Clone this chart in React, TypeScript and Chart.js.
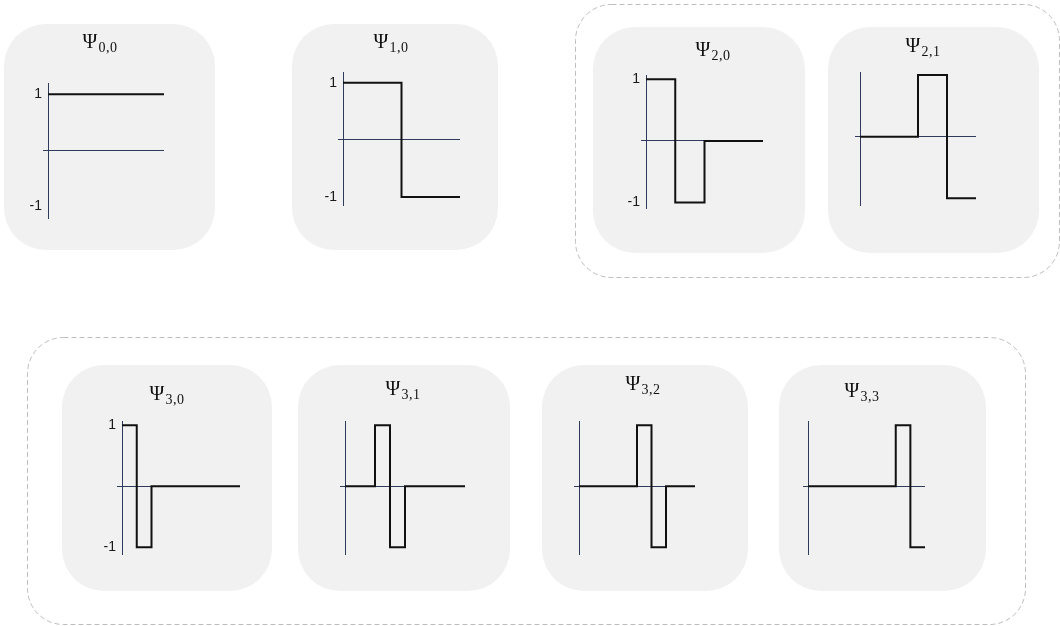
import React, { useEffect, useRef } from "react";
import { Chart, registerables } from "chart.js";

Chart.register(...registerables);

// ---------- data ----------
const Y_TICKS = [-1, 0, 1];

const PSI00_EDGES = [0, 1];
const PSI00_VALUES = [1];
const PSI10_EDGES = [0, 0.5, 1];
const PSI10_VALUES = [1, -1];
const PSI20_EDGES = [0, 0.25, 0.5, 1];
const PSI20_VALUES = [1, -1, 0];
const PSI21_EDGES = [0, 0.5, 0.75, 1];
const PSI21_VALUES = [0, 1, -1];
const PSI30_EDGES = [0, 0.125, 0.25, 1];
const PSI30_VALUES = [1, -1, 0];
const PSI31_EDGES = [0, 0.25, 0.375, 0.5, 1];
const PSI31_VALUES = [0, 1, -1, 0];
const PSI32_EDGES = [0, 0.5, 0.625, 0.75, 1];
const PSI32_VALUES = [0, 1, -1, 0];
const PSI33_EDGES = [0, 0.75, 0.875, 1];
const PSI33_VALUES = [0, 1, -1];

// ---------- styling / layout ----------
const AXIS = "#2f3b5c";
const LINE = "#111111";
const PANEL_BG = "#f1f1f1";
const Y_AXIS_W = 24;

type Panel = {
  j: string;
  k: string;
  edges: number[];
  values: number[];
  labels: boolean;
  box: [number, number, number, number];
  axisX: number;
  endX: number;
  axisTop: number;
  axisBottom: number;
  yMin: number;
  yMax: number;
  title: [number, number];
};

const PANELS: Panel[] = [
  { j: "0", k: "0", edges: PSI00_EDGES, values: PSI00_VALUES, labels: true, box: [4, 24, 211, 226], axisX: 48, endX: 164, axisTop: 83, axisBottom: 218, yMin: -1.21, yMax: 1.2, title: [100, 43] },
  { j: "1", k: "0", edges: PSI10_EDGES, values: PSI10_VALUES, labels: true, box: [292, 24, 206, 226], axisX: 343, endX: 460, axisTop: 72, axisBottom: 205, yMin: -1.14, yMax: 1.19, title: [391, 43] },
  { j: "2", k: "0", edges: PSI20_EDGES, values: PSI20_VALUES, labels: true, box: [593, 27, 212, 226], axisX: 646, endX: 763, axisTop: 75, axisBottom: 208, yMin: -1.09, yMax: 1.07, title: [713, 51] },
  { j: "2", k: "1", edges: PSI21_EDGES, values: PSI21_VALUES, labels: false, box: [828, 27, 211, 226], axisX: 860, endX: 976, axisTop: 72, axisBottom: 205, yMin: -1.11, yMax: 1.05, title: [923, 47] },
  { j: "3", k: "0", edges: PSI30_EDGES, values: PSI30_VALUES, labels: true, box: [62, 365, 210, 226], axisX: 122, endX: 240, axisTop: 421, axisBottom: 554, yMin: -1.11, yMax: 1.07, title: [167, 395] },
  { j: "3", k: "1", edges: PSI31_EDGES, values: PSI31_VALUES, labels: false, box: [298, 365, 212, 226], axisX: 345, endX: 465, axisTop: 421, axisBottom: 554, yMin: -1.11, yMax: 1.07, title: [403, 390] },
  { j: "3", k: "2", edges: PSI32_EDGES, values: PSI32_VALUES, labels: false, box: [542, 365, 206, 226], axisX: 579, endX: 695, axisTop: 421, axisBottom: 554, yMin: -1.11, yMax: 1.07, title: [643, 385] },
  { j: "3", k: "3", edges: PSI33_EDGES, values: PSI33_VALUES, labels: false, box: [779, 365, 207, 226], axisX: 808, endX: 925, axisTop: 421, axisBottom: 554, yMin: -1.11, yMax: 1.07, title: [862, 392] },
];

function stepPoints(edges: number[], values: number[]) {
  const pts = values.map((v, i) => ({ x: edges[i], y: v }));
  pts.push({ x: edges[edges.length - 1], y: values[values.length - 1] });
  return pts;
}

function WaveletPanel({ p }: { p: Panel }) {
  const ref = useRef<HTMLCanvasElement | null>(null);
  const [bx, by, bw, bh] = p.box;

  useEffect(() => {
    if (!ref.current) return;
    const axisColor = (ctx: any) => (ctx.tick && ctx.tick.value === 0 ? AXIS : "rgba(0,0,0,0)");
    const chart = new Chart(ref.current, {
      type: "line",
      data: {
        datasets: [
          {
            data: stepPoints(p.edges, p.values),
            stepped: true,
            borderColor: LINE,
            borderWidth: 2,
            pointRadius: 0,
            fill: false,
            tension: 0,
          },
        ],
      },
      options: {
        animation: false,
        responsive: false,
        maintainAspectRatio: false,
        events: [],
        layout: {
          padding: {
            left: p.axisX - bx - Y_AXIS_W,
            top: p.axisTop - by,
            right: bx + bw - p.endX,
            bottom: by + bh - p.axisBottom,
          },
        },
        plugins: { legend: { display: false }, tooltip: { enabled: false }, title: { display: false } },
        scales: {
          x: { type: "linear", min: 0, max: 1, display: false },
          y: {
            type: "linear",
            min: p.yMin,
            max: p.yMax,
            afterFit: (s: any) => {
              s.width = Y_AXIS_W;
            },
            afterBuildTicks: (s: any) => {
              s.ticks = Y_TICKS.map((v) => ({ value: v }));
            },
            ticks: {
              callback: (v: any) => (p.labels && Number(v) !== 0 ? String(v) : ""),
              font: { family: "'Liberation Sans', Arial, sans-serif", size: 14 },
              color: "#1a1a1a",
              padding: 1,
            },
            grid: {
              color: axisColor,
              tickColor: axisColor,
              tickLength: 5,
              lineWidth: 1,
              drawOnChartArea: true,
            },
            border: { display: true, color: AXIS, width: 1 },
          },
        },
      } as any,
    });
    return () => chart.destroy();
  }, []);

  return (
    <div
      style={{
        position: "absolute",
        left: bx,
        top: by,
        width: bw,
        height: bh,
        background: PANEL_BG,
        borderRadius: 42,
      }}
    >
      <canvas ref={ref} width={bw} height={bh} style={{ position: "absolute", left: 0, top: 0, width: bw, height: bh }} />
      <div
        style={{
          position: "absolute",
          left: p.title[0] - bx,
          top: p.title[1] - by,
          transform: "translate(-50%, -50%)",
          fontFamily: "'Liberation Serif', 'DejaVu Serif', serif",
          fontSize: 20,
          color: "#111",
          whiteSpace: "nowrap",
          lineHeight: 1,
        }}
      >
        Ψ<sub style={{ fontSize: 14, verticalAlign: "-4px", marginLeft: 1, letterSpacing: 0.5 }}>{p.j},{p.k}</sub>
      </div>
    </div>
  );
}

export default function App() {
  return (
    <div style={{ position: "absolute", left: 0, top: 0, width: 1060, height: 626, background: "#fff", overflow: "hidden" }}>
      <svg width={1060} height={626} style={{ position: "absolute", left: 0, top: 0 }}>
        <rect x={575.5} y={4.5} width={484} height={273} rx={36} ry={36} fill="none" stroke="#bdbdbd" strokeWidth={1} strokeDasharray="5 3" />
        <rect x={27.5} y={337.5} width={998} height={287} rx={36} ry={36} fill="none" stroke="#bdbdbd" strokeWidth={1} strokeDasharray="5 3" />
      </svg>
      {PANELS.map((p, i) => (
        <WaveletPanel key={i} p={p} />
      ))}
    </div>
  );
}
